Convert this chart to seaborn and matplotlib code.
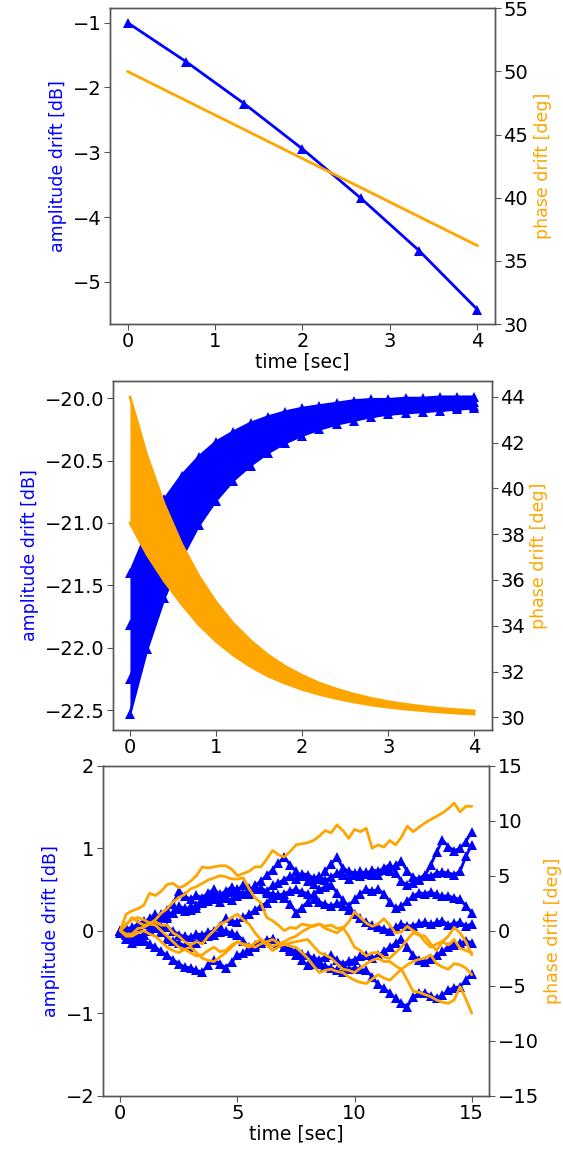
import numpy as np
import matplotlib
matplotlib.use("Agg")
import matplotlib.pyplot as plt
import seaborn as sns

# ---- panel 1: single drift run
t_top = [0, 0.667, 1.333, 2.0, 2.667, 3.333, 4.0]
amp_top = [-1.0, -1.60, -2.25, -2.95, -3.71, -4.52, -5.43]
t_top_ph = [0, 4.0]
ph_top = [50.0, 36.2]

# ---- panel 2: many runs (band edges + a few inner runs), t = 0..4 step 0.2
t_mid = [0.0, 0.2, 0.4, 0.6, 0.8, 1.0, 1.2, 1.4, 1.6, 1.8, 2.0,
         2.2, 2.4, 2.6, 2.8, 3.0, 3.2, 3.4, 3.6, 3.8, 4.0]
amp_mid_upper = [-21.40, -21.07, -20.81, -20.62, -20.47, -20.35, -20.27, -20.20, -20.15, -20.11, -20.08,
                 -20.06, -20.04, -20.02, -20.01, -20.01, -20.00, -20.00, -19.99, -19.99, -19.99]
amp_mid_lower = [-22.53, -22.01, -21.60, -21.28, -21.02, -20.82, -20.66, -20.54, -20.44, -20.36, -20.30,
                 -20.25, -20.21, -20.18, -20.15, -20.13, -20.12, -20.11, -20.10, -20.09, -20.08]
amp_mid_a = [-21.82, -21.42, -21.11, -20.87, -20.68, -20.54, -20.42, -20.33, -20.26, -20.21, -20.17,
             -20.14, -20.11, -20.09, -20.07, -20.06, -20.05, -20.05, -20.04, -20.04, -20.03]
amp_mid_b = [-22.25, -21.79, -21.42, -21.13, -20.90, -20.72, -20.58, -20.47, -20.38, -20.31, -20.25,
             -20.21, -20.17, -20.14, -20.12, -20.10, -20.09, -20.08, -20.07, -20.07, -20.06]
ph_mid_upper = [44.00, 41.40, 39.29, 37.57, 36.17, 35.03, 34.10, 33.35, 32.73, 32.23, 31.83,
                31.49, 31.23, 31.01, 30.83, 30.68, 30.57, 30.47, 30.39, 30.33, 30.28]
ph_mid_lower = [38.50, 37.10, 35.95, 34.95, 34.05, 33.32, 32.72, 32.22, 31.81, 31.49, 31.22,
                31.00, 30.82, 30.67, 30.54, 30.44, 30.36, 30.29, 30.23, 30.18, 30.14]

# ---- panel 3: random-walk drift, t = 0..15 step 0.25
t_bot = [i * 0.25 for i in range(61)]
amp_b1 = [0.00, 0.03, 0.01, 0.06, 0.08, 0.05, 0.12, 0.17, 0.25, 0.32, 0.48, 0.42,
          0.38, 0.43, 0.40, 0.46, 0.50, 0.44, 0.48, 0.53, 0.49, 0.45, 0.47, 0.55,
          0.60, 0.67, 0.74, 0.82, 0.89, 0.80, 0.72, 0.66, 0.60, 0.57, 0.63, 0.72,
          0.81, 0.89, 0.76, 0.72, 0.70, 0.66, 0.71, 0.68, 0.67, 0.73, 0.72, 0.80,
          0.84, 0.72, 0.65, 0.62, 0.66, 0.80, 0.95, 1.10, 1.02, 0.97, 1.00, 1.08, 1.20]
amp_b2 = [0.00, -0.02, 0.04, 0.08, 0.12, 0.10, 0.15, 0.20, 0.18, 0.22, 0.26, 0.24,
          0.30, 0.27, 0.33, 0.36, 0.38, 0.35, 0.40, 0.37, 0.42, 0.46, 0.44, 0.50,
          0.52, 0.48, 0.55, 0.58, 0.62, 0.66, 0.63, 0.69, 0.68, 0.64, 0.66, 0.61,
          0.65, 0.70, 0.67, 0.63, 0.68, 0.72, 0.69, 0.74, 0.72, 0.76, 0.80, 0.70,
          0.60, 0.55, 0.58, 0.63, 0.68, 0.66, 0.70, 0.71, 0.70, 0.68, 0.72, 0.90, 1.04]
amp_b3 = [0.00, 0.04, 0.02, 0.07, 0.10, 0.15, 0.20, 0.16, 0.15, 0.22, 0.30, 0.27,
          0.25, 0.31, 0.35, 0.41, 0.45, 0.40, 0.42, 0.47, 0.50, 0.55, 0.52, 0.50,
          0.50, 0.46, 0.45, 0.43, 0.40, 0.32, 0.22, 0.28, 0.35, 0.44, 0.50, 0.53,
          0.55, 0.46, 0.37, 0.30, 0.38, 0.45, 0.50, 0.48, 0.50, 0.45, 0.35, 0.27,
          0.30, 0.36, 0.42, 0.46, 0.45, 0.47, 0.44, 0.42, 0.42, 0.40, 0.38, 0.30, 0.22]
amp_b4 = [0.00, -0.05, -0.02, -0.06, -0.05, 0.00, 0.03, 0.06, 0.05, 0.00, -0.05, -0.07,
          -0.08, -0.04, -0.05, -0.02, 0.00, 0.06, 0.15, 0.12, 0.10, 0.16, 0.20, 0.25,
          0.30, 0.34, 0.40, 0.43, 0.45, 0.48, 0.50, 0.47, 0.45, 0.39, 0.35, 0.32,
          0.30, 0.33, 0.30, 0.25, 0.20, 0.15, 0.10, 0.07, 0.05, 0.02, 0.00, 0.04,
          0.08, 0.06, 0.06, 0.09, 0.10, 0.08, 0.10, 0.12, 0.07, 0.09, 0.10, 0.06, 0.08]
amp_b5 = [0.00, -0.04, -0.08, -0.06, -0.05, 0.00, 0.05, -0.02, -0.10, -0.12, -0.15, -0.18,
          -0.20, -0.15, -0.10, -0.07, -0.05, -0.02, 0.00, -0.03, -0.05, -0.12, -0.20, -0.17,
          -0.15, -0.11, -0.10, -0.15, -0.20, -0.22, -0.25, -0.28, -0.30, -0.33, -0.35, -0.32,
          -0.30, -0.36, -0.40, -0.37, -0.35, -0.31, -0.30, -0.33, -0.30, -0.25, -0.20, -0.15,
          -0.10, -0.20, -0.30, -0.35, -0.38, -0.34, -0.30, -0.25, -0.20, -0.17, -0.15, -0.12, -0.15]
amp_b6 = [-0.03, -0.10, -0.15, -0.13, -0.12, -0.16, -0.20, -0.25, -0.30, -0.35, -0.40, -0.44,
          -0.45, -0.48, -0.50, -0.42, -0.35, -0.40, -0.45, -0.38, -0.30, -0.27, -0.25, -0.20,
          -0.15, -0.12, -0.10, -0.15, -0.20, -0.25, -0.30, -0.36, -0.42, -0.40, -0.40, -0.43,
          -0.45, -0.48, -0.50, -0.47, -0.45, -0.47, -0.48, -0.56, -0.65, -0.70, -0.75, -0.82,
          -0.88, -0.92, -0.80, -0.76, -0.75, -0.79, -0.82, -0.78, -0.72, -0.69, -0.68, -0.60, -0.52]
ph_o1 = [0.0, 1.5, 1.8, 2.0, 2.3, 3.4, 3.2, 3.6, 4.2, 4.3, 3.9, 4.1,
         4.5, 5.0, 5.8, 5.7, 5.8, 5.9, 5.9, 5.6, 5.0, 5.2, 5.4, 5.8,
         5.8, 6.5, 7.3, 6.9, 6.7, 7.2, 7.8, 7.9, 8.0, 8.2, 8.6, 9.1,
         8.9, 9.6, 9.1, 8.4, 9.2, 9.0, 9.3, 7.5, 7.8, 7.6, 8.2, 7.8,
         8.5, 9.5, 9.0, 9.4, 9.8, 10.1, 10.4, 10.7, 11.1, 11.6, 10.8, 11.3, 11.3]
ph_o2 = [0.0, 0.5, 1.2, 0.8, 0.5, 0.6, 1.0, 1.6, 2.0, 2.6, 3.0, 3.3,
         3.8, 4.0, 4.3, 4.6, 4.8, 5.0, 4.9, 4.7, 4.7, 4.8, 3.8, 3.0,
         2.5, 1.2, 0.9, 0.5, 0.0, 0.3, 0.2, 0.6, 0.5, 0.4, 0.6, 0.2,
         0.0, -0.2, 0.2, 0.8, 1.7, 1.2, 0.7, 0.4, 0.6, 1.1, 0.5, -0.2,
         -0.1, 0.4, 0.0, -0.3, -1.0, -1.5, -1.2, -1.0, -1.3, -0.8, -1.6, -1.8, -2.0]
ph_o3 = [0.0, 0.6, 1.0, 1.2, 1.0, 0.7, 0.8, 0.5, 0.5, -0.2, -0.5, -1.0,
         -1.3, -1.0, -1.2, -0.5, 0.0, 0.6, 0.8, 1.2, 1.5, 1.0, 0.6, -0.2,
         -0.8, -1.1, -1.4, -1.2, -1.0, -0.7, -0.5, -0.1, 0.2, 0.5, 0.6, 0.4,
         0.5, 0.2, 0.3, -0.5, -1.5, -1.8, -2.3, -2.0, -2.0, -2.4, -2.5, -2.0,
         -1.5, -0.8, -0.2, -0.4, -0.5, -1.2, -1.8, -1.0, -0.5, 0.3, -0.2, -1.0, -2.2]
ph_o4 = [0.0, -0.3, -0.3, 0.2, 0.3, 0.6, 0.5, 0.0, -0.5, -1.0, -1.5, -1.7,
         -2.0, -2.3, -2.2, -1.8, -1.5, -1.9, -1.8, -1.3, -1.0, -1.2, -1.3, -1.5,
         -1.2, -1.0, -0.8, -1.1, -1.3, -1.1, -1.0, -0.9, -0.8, -1.4, -2.0, -2.2,
         -2.5, -3.0, -3.5, -3.6, -3.8, -3.4, -3.0, -2.7, -2.5, -2.8, -2.8, -3.2,
         -3.5, -3.1, -2.8, -2.6, -2.5, -2.2, -3.0, -3.3, -3.5, -3.0, -3.1, -3.4, -4.0]
ph_o5 = [0.0, -0.5, -0.5, -0.2, 0.0, -0.3, -0.5, -1.0, -1.5, -1.8, -2.0, -1.7,
         -1.5, -2.0, -2.5, -2.7, -2.8, -2.4, -2.0, -1.5, -1.0, -1.3, -1.5, -1.1,
         -0.8, -1.3, -1.8, -1.5, -1.2, -1.4, -1.5, -2.0, -2.5, -3.2, -3.8, -3.6,
         -3.5, -3.7, -3.8, -4.2, -4.5, -4.7, -4.8, -4.4, -4.0, -4.3, -4.5, -4.0,
         -3.5, -4.5, -5.5, -5.6, -5.8, -6.0, -6.3, -6.5, -6.6, -6.3, -5.1, -6.2, -7.5]

BLUE = "blue"
ORANGE = "orange"

sns.set_style("ticks")
plt.rcParams["font.family"] = ["DejaVu Sans"]
plt.rcParams["font.size"] = 14
plt.rcParams["axes.edgecolor"] = "#555555"
plt.rcParams["xtick.color"] = "#555555"
plt.rcParams["ytick.color"] = "#555555"
plt.rcParams["xtick.labelcolor"] = "black"
plt.rcParams["ytick.labelcolor"] = "black"

fig = plt.figure(figsize=(5.63, 11.51), dpi=100)
ax1 = fig.add_axes([0.1954, 0.7185, 0.6838, 0.2743])
ax2 = fig.add_axes([0.2002, 0.3658, 0.6732, 0.3032])
ax3 = fig.add_axes([0.1824, 0.0480, 0.6867, 0.2868])


def finish(ax, axr, xlabel=True):
    ax.set_ylabel("amplitude drift [dB]", color=BLUE, fontsize=12.5)
    axr.set_ylabel("phase drift [deg]", color=ORANGE, fontsize=12.5)
    if xlabel:
        ax.set_xlabel("time [sec]", fontsize=13.5, labelpad=1, color="black")
    for a in (ax, axr):
        a.tick_params(labelsize=14, length=4, pad=2)


# panel 1
sns.lineplot(x=t_top, y=amp_top, ax=ax1, color=BLUE, marker="^", markersize=7,
             markeredgewidth=0, lw=2)
ax1r = ax1.twinx()
sns.lineplot(x=t_top_ph, y=ph_top, ax=ax1r, color=ORANGE, lw=2)
ax1r.set_ylim(30, 55)
ax1.set_xticks([0, 1, 2, 3, 4])
ax1.set_yticks([-1, -2, -3, -4, -5])
finish(ax1, ax1r)

# panel 2
ax2.fill_between(t_mid, amp_mid_lower, amp_mid_upper, color=BLUE, lw=0)
for amp in (amp_mid_upper, amp_mid_lower, amp_mid_a, amp_mid_b):
    sns.lineplot(x=t_mid, y=amp, ax=ax2, color=BLUE, marker="^", markersize=7,
                 markeredgewidth=0, lw=2)
ax2r = ax2.twinx()
ax2r.fill_between(t_mid, ph_mid_lower, ph_mid_upper, color=ORANGE, lw=0)
for ph in (ph_mid_upper, ph_mid_lower):
    sns.lineplot(x=t_mid, y=ph, ax=ax2r, color=ORANGE, lw=2)
ax2.set_xticks([0, 1, 2, 3, 4])
ax2.set_yticks([-20.0, -20.5, -21.0, -21.5, -22.0, -22.5])
ax2.set_yticklabels(["\u221220.0", "\u221220.5", "\u221221.0", "\u221221.5", "\u221222.0", "\u221222.5"])
ax2r.set_yticks([30, 32, 34, 36, 38, 40, 42, 44])
finish(ax2, ax2r, xlabel=False)

# panel 3
for amp in (amp_b1, amp_b2, amp_b3, amp_b4, amp_b5, amp_b6):
    sns.lineplot(x=t_bot, y=amp, ax=ax3, color=BLUE, marker="^", markersize=7,
                 markeredgewidth=0, lw=2)
ax3r = ax3.twinx()
for ph in (ph_o1, ph_o2, ph_o3, ph_o4, ph_o5):
    sns.lineplot(x=t_bot, y=ph, ax=ax3r, color=ORANGE, lw=2)
ax3.set_ylim(-2, 2)
ax3r.set_ylim(-15, 15)
ax3.set_xticks([0, 5, 10, 15])
ax3.set_yticks([-2, -1, 0, 1, 2])
ax3r.set_yticks([-15, -10, -5, 0, 5, 10, 15])
finish(ax3, ax3r)

for a in (ax1, ax1r, ax2, ax2r, ax3, ax3r):
    for s in a.spines.values():
        s.set_visible(True)
        s.set_linewidth(1.0)

fig.savefig("out.png", dpi=100)
